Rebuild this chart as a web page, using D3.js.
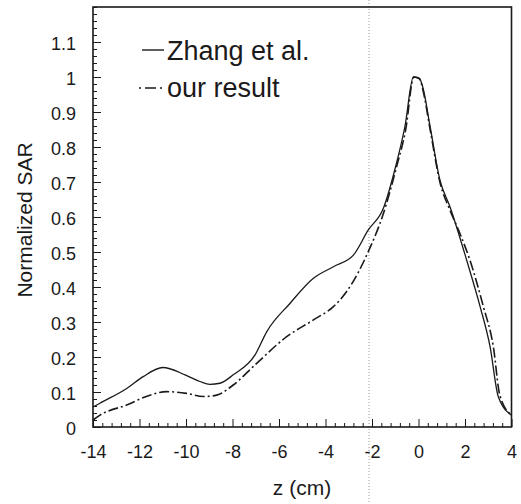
<!DOCTYPE html>
<html>
<head>
<meta charset="utf-8">
<script src="https://cdn.jsdelivr.net/npm/d3@7/dist/d3.min.js"></script>
<style>
  html, body { margin: 0; padding: 0; background: #fff; }
  svg { display: block; font-family: "Liberation Sans", Arial, Helvetica, sans-serif; }
</style>
</head>
<body>
<svg id="chart" width="521" height="504"></svg>
<script>
// ---- data ----
const zhangZ = [-14, -13.7, -12.55, -11.84, -11, -10.04, -9.4, -8.97, -8.54, -7.97, -7.03, -6.53, -5.53, -4.52, -3.66, -2.8, -2.16, -1.51, -1.0, -0.58, -0.22, 0.04, 0.18, 0.5, 0.92, 1.35, 2.07, 2.65, 3.08, 3.43, 4.0];
const zhangV = [0.057, 0.068, 0.11, 0.144, 0.17, 0.149, 0.13, 0.122, 0.125, 0.149, 0.206, 0.272, 0.353, 0.425, 0.458, 0.491, 0.563, 0.625, 0.74, 0.86, 1.0, 0.996, 0.972, 0.858, 0.706, 0.63, 0.477, 0.344, 0.229, 0.087, 0.034];
const oursZ = [-14, -13.7, -12.55, -11.55, -10.83, -9.97, -9.25, -8.68, -7.97, -6.96, -5.67, -4.52, -3.66, -3.09, -2.16, -1.51, -0.94, -0.55, -0.2, 0.04, 0.2, 0.5, 0.92, 1.35, 1.8, 2.21, 2.79, 3.22, 3.5, 4.0];
const oursV = [0.02, 0.034, 0.063, 0.091, 0.101, 0.096, 0.087, 0.091, 0.12, 0.182, 0.258, 0.306, 0.344, 0.387, 0.501, 0.61, 0.744, 0.85, 1.0, 0.995, 0.96, 0.85, 0.70, 0.62, 0.55, 0.477, 0.344, 0.229, 0.09, 0.034];
const seriesNames = ["Zhang et al.", "our result"];
const xTicks = [-14, -12, -10, -8, -6, -4, -2, 0, 2, 4];
const yTicks = [0, 0.1, 0.2, 0.3, 0.4, 0.5, 0.6, 0.7, 0.8, 0.9, 1, 1.1];
const xLabel = "z (cm)";
const yLabel = "Normalized SAR";

// ---- layout ----
const svg = d3.select("#chart");
const L = 93, R = 511.5, T = 7, B = 427;
const x = d3.scaleLinear().domain([-14, 4]).range([L, R]);
const y = d3.scaleLinear().domain([0, 1.2]).range([B, T]);
const ink = "#1a1a1a";

// scan fold artifact (faint dotted vertical line)
svg.append("line")
  .attr("x1", 369).attr("x2", 369).attr("y1", 0).attr("y2", 504)
  .attr("stroke", "#9a9a9a").attr("stroke-width", 1)
  .attr("stroke-dasharray", "1,2");

// minor ticks
const xMinor = d3.range(-14, 4.001, 0.4).filter(v => !xTicks.some(t => Math.abs(t - v) < 1e-6));
const yMinor = d3.range(0, 1.2001, 0.02).filter(v => !yTicks.some(t => Math.abs(t - v) < 1e-6));

svg.append("g").attr("transform", `translate(0,${B})`)
  .call(d3.axisBottom(x).tickValues(xMinor).tickSize(-4).tickFormat(""))
  .call(g => g.select(".domain").remove())
  .call(g => g.selectAll("line").attr("stroke", ink));
svg.append("g").attr("transform", `translate(${L},0)`)
  .call(d3.axisLeft(y).tickValues(yMinor).tickSize(-4).tickFormat(""))
  .call(g => g.select(".domain").remove())
  .call(g => g.selectAll("line").attr("stroke", ink));

// major axes
const fmtX = d => (d < 0 ? "-" + Math.abs(d) : String(d));
const fmtY = d => (d === 0 ? "0" : d === 1 ? "1" : d.toFixed(1));

const gx = svg.append("g").attr("transform", `translate(0,${B})`)
  .call(d3.axisBottom(x).tickValues(xTicks).tickSize(-8).tickPadding(18).tickFormat(fmtX));
gx.select(".domain").remove();
gx.selectAll("line").attr("stroke", ink);
gx.selectAll("text").attr("font-size", 18).attr("fill", ink)
  .attr("font-family", "Liberation Sans, Arial, sans-serif");

const gy = svg.append("g").attr("transform", `translate(${L},0)`)
  .call(d3.axisLeft(y).tickValues(yTicks).tickSize(-8).tickPadding(17).tickFormat(fmtY));
gy.select(".domain").remove();
gy.selectAll("line").attr("stroke", ink);
gy.selectAll("text").attr("font-size", 18).attr("fill", ink).attr("dy", "0.42em")
  .attr("font-family", "Liberation Sans, Arial, sans-serif");

// frame
svg.append("rect")
  .attr("x", L).attr("y", T).attr("width", R - L).attr("height", B - T)
  .attr("fill", "none").attr("stroke", ink).attr("stroke-width", 1.6);

// lines
const line = d3.line().x(d => x(d[0])).y(d => y(d[1])).curve(d3.curveMonotoneX);
const zhang = zhangZ.map((z, i) => [z, zhangV[i]]);
const ours = oursZ.map((z, i) => [z, oursV[i]]);

svg.append("path").datum(zhang)
  .attr("d", line).attr("fill", "none")
  .attr("stroke", ink).attr("stroke-width", 1.3);
svg.append("path").datum(ours)
  .attr("d", line).attr("fill", "none")
  .attr("stroke", ink).attr("stroke-width", 1.6)
  .attr("stroke-dasharray", "10,3,2,3");

// legend
svg.append("line").attr("x1", 142).attr("x2", 164).attr("y1", 50).attr("y2", 50)
  .attr("stroke", ink).attr("stroke-width", 1.4);
svg.append("text").attr("x", 167).attr("y", 60).attr("font-size", 27).attr("fill", ink)
  .text(seriesNames[0]);
svg.append("line").attr("x1", 139).attr("x2", 164).attr("y1", 88).attr("y2", 88)
  .attr("stroke", ink).attr("stroke-width", 1.6).attr("stroke-dasharray", "2,4,11,4,2");
svg.append("text").attr("x", 167).attr("y", 97).attr("font-size", 27).attr("fill", ink)
  .text(seriesNames[1]);

// axis titles
svg.append("text").attr("x", 302).attr("y", 495).attr("text-anchor", "middle")
  .attr("font-size", 21).attr("fill", ink).text(xLabel);
svg.append("text").attr("transform", "translate(32,220) rotate(-90)")
  .attr("text-anchor", "middle").attr("font-size", 21).attr("fill", ink).text(yLabel);
</script>
</body>
</html>
